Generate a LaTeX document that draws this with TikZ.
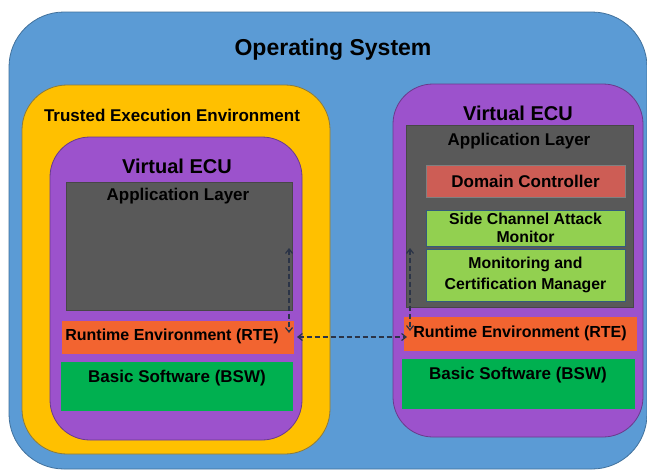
\documentclass[tikz,border=0pt]{standalone}
\usepackage{fontspec}
\setmainfont{Liberation Sans}
\usetikzlibrary{arrows.meta}
\definecolor{osblue}{HTML}{5B9BD5}
\definecolor{osedge}{HTML}{41719C}
\definecolor{teeyel}{HTML}{FFC000}
\definecolor{teeedge}{HTML}{8C7A3C}
\definecolor{vpurple}{HTML}{9C52CC}
\definecolor{vedge}{HTML}{6A3B8C}
\definecolor{appgray}{HTML}{595959}
\definecolor{rteor}{HTML}{F26430}
\definecolor{bswgreen}{HTML}{00B050}
\definecolor{dcred}{HTML}{CD5D55}
\definecolor{limeg}{HTML}{92D050}
\definecolor{arrowc}{HTML}{2B3447}
\tikzset{
  box/.style={draw, line width=0.8pt, inner sep=0pt, rectangle},
  ttl/.style={font=\bfseries, text=black, inner sep=0pt, align=center},
  dash arrow/.style={draw=arrowc, line width=1.2pt, dash pattern=on 5pt off 3pt,
     {Straight Barb[length=4.5pt,width=7pt]}-{Straight Barb[length=4.5pt,width=7pt]}}
}
\begin{document}
\begin{tikzpicture}[x=1pt,y=-1pt]
\useasboundingbox[fill=white] (0,0) rectangle (647,471);
% containers
\node[box, draw=osedge, fill=osblue, rounded corners=55pt, minimum width=638pt, minimum height=457pt] (os) at (328,240.5) {};
\node[box, draw=teeedge, fill=teeyel, rounded corners=45pt, minimum width=308pt, minimum height=369pt] (tee) at (176,269.5) {};
\node[box, draw=vedge, fill=vpurple, rounded corners=40pt, minimum width=252pt, minimum height=303pt] (lvecu) at (176,288.5) {};
\node[box, draw=vedge, fill=vpurple, rounded corners=40pt, minimum width=250pt, minimum height=353pt] (rvecu) at (518,260.5) {};
% left layers
\node[box, draw=appgray!80!black, fill=appgray, minimum width=226pt, minimum height=128pt] (lapp) at (179,246) {};
\node[box, draw=rteor, fill=rteor, minimum width=231pt, minimum height=32pt] (lrte) at (177.5,337) {};
\node[box, draw=bswgreen, fill=bswgreen, minimum width=231pt, minimum height=48pt] (lbsw) at (176.5,386) {};
% right layers
\node[box, draw=appgray!80!black, fill=appgray, minimum width=227pt, minimum height=182pt] (rapp) at (519.5,216) {};
\node[box, draw=gray, fill=dcred, minimum width=199pt, minimum height=32pt, font=\fontsize{17}{20}\selectfont\bfseries] (dc) at (525.5,181) {Domain Controller};
\node[box, draw=osedge!80!black, fill=limeg, minimum width=199pt, minimum height=36pt, align=center, font=\fontsize{15.8}{18}\selectfont\bfseries] (sca) at (525.5,228) {Side Channel Attack\\Monitor};
\node[box, draw=osedge!80!black, fill=limeg, minimum width=199pt, minimum height=52pt, align=center, font=\fontsize{15.8}{21}\selectfont\bfseries] (mcm) at (525.5,275) {Monitoring and\\Certification Manager};
\node[box, draw=rteor, fill=rteor, minimum width=232pt, minimum height=33pt] (rrte) at (520,333.5) {};
\node[box, draw=bswgreen, fill=bswgreen, minimum width=232pt, minimum height=49pt] (rbsw) at (518,383.5) {};
% titles
\node[ttl, font=\fontsize{23}{26}\selectfont\bfseries] (ostitle) at (333,50) {Operating System};
\node[ttl, font=\fontsize{17}{20}\selectfont\bfseries] (teetitle) at (172,115) {Trusted Execution Environment};
\node[ttl, font=\fontsize{20}{23}\selectfont\bfseries] (lvtitle) at (177,166) {Virtual ECU};
\node[ttl, font=\fontsize{20}{23}\selectfont\bfseries] (rvtitle) at (518,113) {Virtual ECU};
\node[ttl, font=\fontsize{17}{20}\selectfont\bfseries] (lapptitle) at (178,196) {Application Layer};
\node[ttl, font=\fontsize{17}{20}\selectfont\bfseries] (rapptitle) at (519,141) {Application Layer};
\node[ttl, font=\fontsize{16}{19}\selectfont\bfseries] (lrtetitle) at (172,336) {Runtime Environment (RTE)};
\node[ttl, font=\fontsize{16}{19}\selectfont\bfseries] (rrtetitle) at (520,333) {Runtime Environment (RTE)};
\node[ttl, font=\fontsize{17}{20}\selectfont\bfseries] (lbswtitle) at (177,378) {Basic Software (BSW)};
\node[ttl, font=\fontsize{17}{20}\selectfont\bfseries] (rbswtitle) at (518,375) {Basic Software (BSW)};
% connectors
\coordinate (la1) at (289,248);
\coordinate (la2) at (289,333);
\coordinate (ra1) at (410,248);
\coordinate (ra2) at (410,331);
\coordinate (ha) at (297,337);
\coordinate (hb) at (407,337);
\draw[dash arrow] (la1) -- (la2);
\draw[dash arrow] (ra1) -- (ra2);
\draw[dash arrow] (ha) -- (hb);
\end{tikzpicture}
\end{document}
